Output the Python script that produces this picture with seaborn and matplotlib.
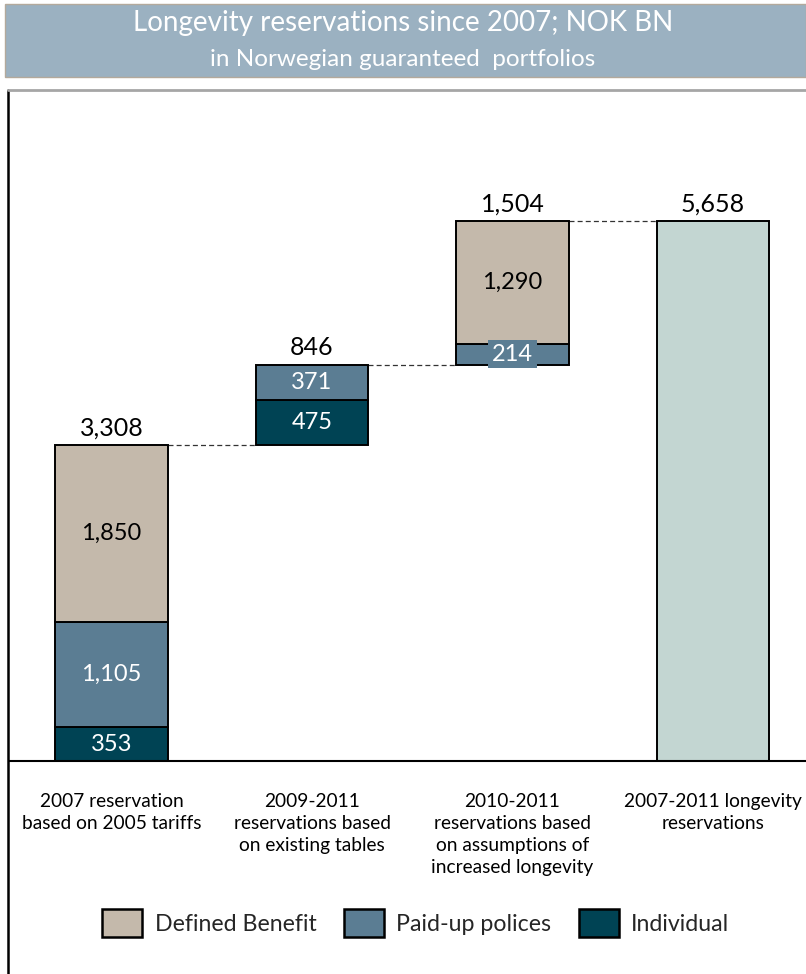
import matplotlib
matplotlib.use("Agg")
import matplotlib.pyplot as plt
import seaborn as sns
import pandas as pd
from matplotlib.patches import Patch, Rectangle
from matplotlib.lines import Line2D

# ---------------- data ----------------
categories = [
    "2007 reservation\nbased on 2005 tariffs",
    "2009-2011\nreservations based\non existing tables",
    "2010-2011\nreservations based\non assumptions of\nincreased longevity",
    "2007-2011 longevity\nreservations",
]
individual = [353, 475, 0, 0]
paid_up = [1105, 371, 214, 0]
defined_benefit = [1850, 0, 1290, 0]
total_bar = [0, 0, 0, 5658]
totals = [3308, 846, 1504, 5658]
total_labels = ["3,308", "846", "1,504", "5,658"]
legend_labels = ["Defined Benefit", "Paid-up polices", "Individual"]
title_line1 = "Longevity reservations since 2007; NOK BN"
title_line2 = "in Norwegian guaranteed  portfolios"

# ---------------- style ----------------
sns.set_theme(style="white")
plt.rcParams["font.family"] = ["Lato", "DejaVu Sans"]

C_DB = "#c4b9ab"
C_PU = "#5b7d93"
C_IND = "#004354"
C_TOT = "#c3d6d2"

W, H = 806, 974
fig = plt.figure(figsize=(W / 100, H / 100), dpi=100)

def fx(x):
    return x / W

def fy(y):
    return 1 - y / H

# axes placement (pixels): x 10..806, y 90..761
ax = fig.add_axes([fx(10), fy(761), fx(806) - fx(10), fy(90) - fy(761)])

# waterfall bases from the values
bases = []
run = 0
for i, t in enumerate(totals):
    if i < len(totals) - 1:
        bases.append(run)
        run += t
    else:
        bases.append(0)

rows = []
for i, cat in enumerate(categories):
    b = bases[i]
    for name, series in [("Individual", individual),
                         ("Paid-up polices", paid_up),
                         ("Defined Benefit", defined_benefit),
                         ("Total", total_bar)]:
        v = series[i]
        if v > 0:
            rows.append(dict(cat=cat, series=name, value=v, bottom=b, idx=i))
            b += v
df = pd.DataFrame(rows)

colors = {"Individual": C_IND, "Paid-up polices": C_PU,
          "Defined Benefit": C_DB, "Total": C_TOT}
BW = 0.56
for name in ["Individual", "Paid-up polices", "Defined Benefit", "Total"]:
    sub = df[df["series"] == name].sort_values("idx")
    sns.barplot(data=sub, x="cat", y="value", order=categories,
                bottom=sub["bottom"].to_numpy(), color=colors[name],
                saturation=1, width=BW, errorbar=None, ax=ax,
                edgecolor="black", linewidth=1.4)

# segment labels
for _, r in df.iterrows():
    if r["series"] == "Total":
        continue
    ycen = r["bottom"] + r["value"] / 2
    tc = "black" if r["series"] == "Defined Benefit" else "white"
    txt = f"{r['value']:,}"
    kw = {}
    if r["value"] < 300:
        kw["bbox"] = dict(boxstyle="square,pad=0.15", fc=colors[r["series"]], ec="none")
    ax.text(r["idx"], ycen, txt, ha="center", va="center", fontsize=17,
            color=tc, **kw)

# totals labels & connectors
for i, t in enumerate(totals):
    top = bases[i] + t
    ax.text(i, top + 55, total_labels[i], ha="center", va="bottom",
            fontsize=18, color="black")
    if i < len(totals) - 1:
        ax.plot([i + BW / 2, i + 1 - BW / 2], [top, top], color="#333333",
                lw=0.9, ls=(0, (4, 2.5)), zorder=0.5)

px_per_unit = 540 / 5658
ax.set_ylim(0, (761 - 90) / px_per_unit)
ax.set_xlim(-101.5 / 200.5, (806 - 111.5) / 200.5)
ax.set_xticks(range(len(categories)))
ax.set_xticklabels(categories, fontsize=13.8, linespacing=1.37)
ax.tick_params(axis="x", length=0, pad=23, colors="black")
ax.set_yticks([])
ax.set_xlabel("")
ax.set_ylabel("")
for s in ["left", "right", "top"]:
    ax.spines[s].set_visible(False)
ax.spines["bottom"].set_color("black")
ax.spines["bottom"].set_linewidth(1.5)
ax.patch.set_alpha(0)

# frame (left + top)
fig.add_artist(Line2D([fx(8), fx(8)], [fy(90), 0], color="black", lw=1.8,
                      transform=fig.transFigure))
fig.add_artist(Line2D([fx(8), 1], [fy(90), fy(90)], color="#a6a6a6", lw=2,
                      transform=fig.transFigure))

# title banner
fig.add_artist(Rectangle((fx(5), fy(77)), fx(806) - fx(5), fy(4) - fy(77),
                         transform=fig.transFigure, fc="#9bb1c1",
                         ec="#b3a99c", lw=1))
fig.text(0.5, fy(23), title_line1, ha="center", va="center",
         color="white", fontsize=20)
fig.text(0.5, fy(60), title_line2, ha="center", va="center",
         color="white", fontsize=17.5)

# legend
handles = [Patch(fc=C_DB, ec="black", lw=1.8),
           Patch(fc=C_PU, ec="black", lw=1.8),
           Patch(fc=C_IND, ec="black", lw=1.8)]
fig.legend(handles, legend_labels, loc="center", bbox_to_anchor=(fx(416), fy(923)),
           ncol=3, frameon=False, fontsize=16.7, handlelength=1.7,
           handleheight=1.5, handletextpad=0.55, columnspacing=1.2)

fig.savefig("out.png", dpi=100)
